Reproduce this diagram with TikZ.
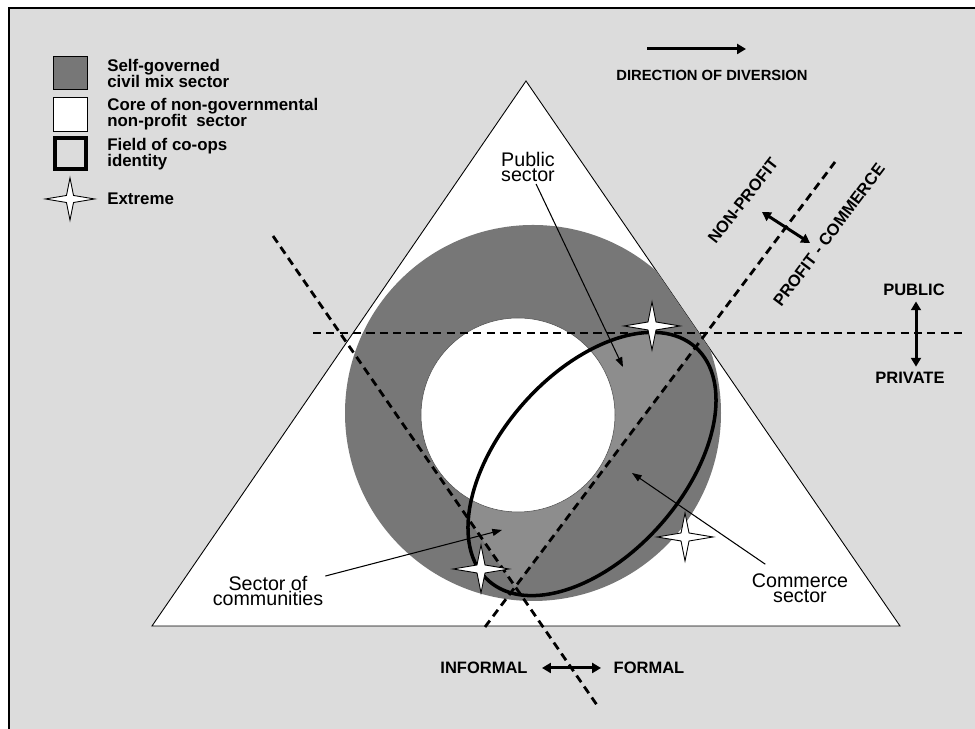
\documentclass[tikz,border=0pt]{standalone}
\usepackage{fontspec}
\setmainfont{Liberation Sans}
\usetikzlibrary{arrows.meta}

\definecolor{bggray}{HTML}{DCDCDC}
\definecolor{mixgray}{HTML}{777777}
\definecolor{dotgray}{HTML}{8D8D8D}

\tikzset{
  sectorlabel/.style={align=center, inner sep=1pt, font=\fontsize{11.2}{8.8}\selectfont},
  axislabel/.style={inner sep=1pt, font=\fontsize{9.4}{9.4}\selectfont\bfseries},
  legendtext/.style={anchor=west, align=left, inner sep=0pt, font=\fontsize{9.6}{9.1}\selectfont\bfseries},
  divide/.style={line width=1.6pt, dash pattern=on 4.6pt off 3pt},
  pointer/.style={line width=0.6pt, -{Triangle[length=5.5pt,width=4pt]}},
  bothways/.style={line width=1.7pt, {Triangle[length=5pt,width=5.6pt]}-{Triangle[length=5pt,width=5.6pt]}},
  extreme/.pic={
    \draw[fill=white, line width=0.5pt] (-28,0) -- (-4,4) -- (0,24) -- (4,4) -- (28,0)
      -- (4,-4) -- (0,-24) -- (-4,-4) -- cycle;
  }
}

\begin{document}
\begin{tikzpicture}[x=0.2mm, y=0.2mm]
 \useasboundingbox (0,0) rectangle (975,729);
 % frame
 \fill[bggray] (9,0) rectangle (975,721);
 \draw[line width=1.4pt] (9,0) -- (9,721) -- (975,721);

 % triangle
 \filldraw[fill=white, line width=0.5pt] (526,648) -- (152,103) -- (900,103) -- cycle;

 % self-governed civil mix sector
 \begin{scope}
  \clip (526,648) -- (152,103) -- (900,103) -- cycle;
  \fill[mixgray] (533,316) circle (188);
 \end{scope}
 % part of co-ops field between the two diagonals
 \begin{scope}
  \clip[rotate around={48.5:(592,265)}] (592,265) ellipse [x radius=156, y radius=91.5];
  \clip (515,142) -- (957,729) -- (110,729) -- cycle;
  \fill[dotgray] (533,316) circle (188);
 \end{scope}
 % core of non-governmental non-profit sector
 \filldraw[fill=white, draw=black!70, line width=0.3pt] (518,314) circle (97);

 % dividing lines
 \draw[divide] (313,396) -- (966,396);
 \draw[divide] (485,102) -- (835,567);
 \draw[divide] (273,493) -- (599,21);

 % field of co-ops identity
 \draw[line width=2pt, rotate around={48.5:(592,265)}] (592,265) ellipse [x radius=156, y radius=91.5];

 % sectors
 \node[sectorlabel] (pubsec) at (528,562) {Public\\sector};
 \coordinate (pubtip) at (623,362);
 \draw[pointer] (pubsec) -- (pubtip);

 \node[sectorlabel] (comsec) at (800,141) {Commerce\\sector};
 \coordinate (comtip) at (632,256);
 \draw[pointer, shorten <=7pt] (comsec) -- (comtip);

 \node[sectorlabel] (commun) at (268,138) {Sector of\\communities};
 \coordinate (communtip) at (502,199);
 \draw[pointer] (commun) -- (communtip);

 % extremes
 \pic at (652,403) {extreme};
 \pic at (685,192) {extreme};
 \pic at (481,160) {extreme};

 % directions
 \node[axislabel, font=\fontsize{8.4}{8.4}\selectfont\bfseries] (divert) at (712,654) {DIRECTION OF DIVERSION};
 \coordinate (divstart) at (647,680);
 \coordinate (divend) at (746,680);
 \draw[line width=1.7pt, -{Triangle[length=5pt,width=5.6pt]}] (divstart) -- (divend);

 \node[axislabel, rotate=52] (nonprof) at (743,528) {NON-PROFIT};
 \node[axislabel, rotate=53] (profcom) at (829,494) {PROFIT - COMMERCE};
 \coordinate (npa) at (762,517);
 \coordinate (npb) at (810,486);
 \draw[bothways] (npa) -- (npb);

 \node[axislabel] (public) at (914,439) {PUBLIC};
 \node[axislabel] (private) at (910,351) {PRIVATE};
 \draw[bothways, shorten <=2pt, shorten >=2pt] (public.south -| 916,0) -- (private.north -| 916,0);

 \node[axislabel] (informal) at (484,61) {INFORMAL};
 \node[axislabel] (formal) at (649,61) {FORMAL};
 \draw[bothways, shorten <=7pt, shorten >=6pt] (informal) -- (formal);

 % legend
 \filldraw[fill=mixgray, line width=0.4pt] (53,640) rectangle (87,673);
 \node[legendtext] (leg1) at (107,656) {Self-governed\\civil mix sector};
 \filldraw[fill=white, line width=0.4pt] (53,598) rectangle (87,632);
 \node[legendtext] (leg2) at (107,615) {Core of non-governmental\\non-profit\ \ sector};
 \draw[line width=2pt] (55,560) rectangle (86,591);
 \node[legendtext] (leg3) at (107,575) {Field of co-ops\\identity};
 \pic[scale=0.88] at (70,530) {extreme};
 \node[legendtext] (leg4) at (107,530) {Extreme};
\end{tikzpicture}
\end{document}
